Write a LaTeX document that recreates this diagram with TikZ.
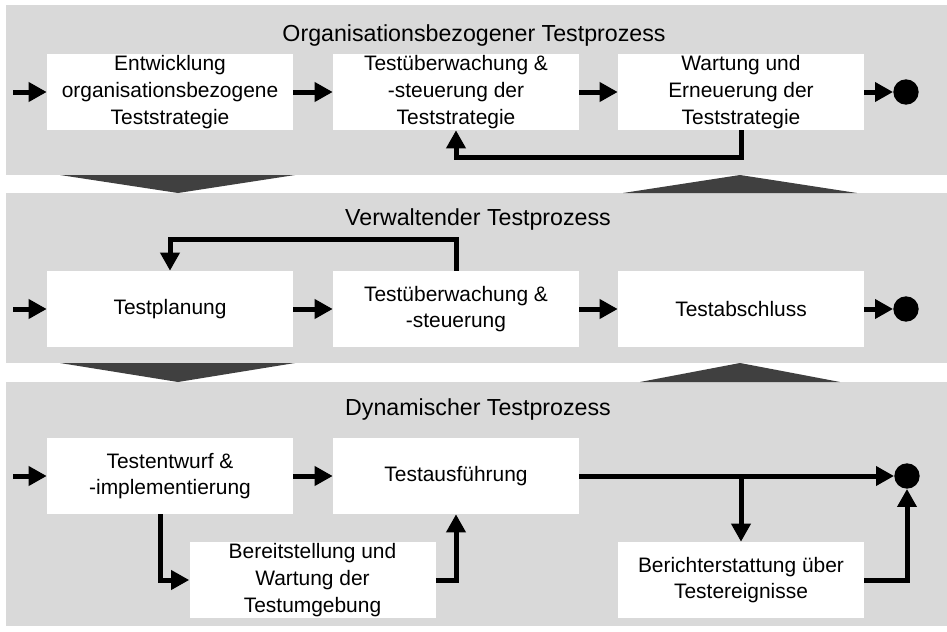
\documentclass[tikz,border=0pt]{standalone}
\usepackage{fontspec}
\setmainfont{Liberation Sans}
\usetikzlibrary{arrows.meta}
\definecolor{panelgray}{HTML}{D9D9D9}
\definecolor{wedgegray}{HTML}{404040}
\begin{document}
\begin{tikzpicture}[x=.75pt, y=-.75pt,
  every node/.style={font=\fontsize{15.7}{20}\selectfont},
  box/.style={fill=white, minimum width=184.5pt, minimum height=57pt, align=center, inner sep=0pt},
  endpt/.style={circle, fill=black, minimum size=19pt, inner sep=0pt},
  flow/.style={line width=3.75pt, -{Triangle[length=13.5pt 0 0, width=14pt 0 0]}},
  heading/.style={font=\fontsize{17.4}{21}\selectfont, anchor=base}]
  \useasboundingbox (0,0) rectangle (947,632);
  \fill[panelgray] (6,5) rectangle (947,175);
  \fill[panelgray] (6,193) rectangle (947,363);
  \fill[panelgray] (6,382) rectangle (947,626);
  \fill[wedgegray] (60,175) -- (295,175) -- (178,193) -- cycle;
  \fill[wedgegray] (623,193) -- (857,193) -- (740,175) -- cycle;
  \fill[wedgegray] (60,363) -- (295,363) -- (178,382) -- cycle;
  \fill[wedgegray] (640,382) -- (840,382) -- (740,363) -- cycle;

  \node[heading] (orgtitle) at (474,41) {Organisationsbezogener Testprozess};
  \node[heading] (mgmttitle) at (478,225) {Verwaltender Testprozess};
  \node[heading] (dyntitle) at (478,415) {Dynamischer Testprozess};

  \node[box] (strat) at (170,92) {Entwicklung\\organisationsbezogene\\Teststrategie};
  \node[box] (orgctl) at (456,92) {Testüberwachung \&\\-steuerung der\\Teststrategie};
  \node[box] (maint) at (741,92) {Wartung und\\Erneuerung der\\Teststrategie};
  \node[endpt] (orgend) at (906,92) {};
  \coordinate (orgin) at (13,92);
  \draw[flow] (orgin) -- (strat.west);
  \draw[flow] (strat.east) -- (orgctl.west);
  \draw[flow] (orgctl.east) -- (maint.west);
  \draw[flow] (maint.east) -- (orgend.west);
  \draw[flow] (maint.south) -- ++(0,27) -| (orgctl.south);

  \node[box] (plan) at (170,309) {Testplanung};
  \node[box] (mgmtctl) at (456,309) {Testüberwachung \&\\-steuerung};
  \node[box] (close) at (741,309) {Testabschluss};
  \node[endpt] (mgmtend) at (906,309) {};
  \coordinate (mgmtin) at (13,309);
  \draw[flow] (mgmtin) -- (plan.west);
  \draw[flow] (plan.east) -- (mgmtctl.west);
  \draw[flow] (mgmtctl.east) -- (close.west);
  \draw[flow] (close.east) -- (mgmtend.west);
  \draw[flow] (mgmtctl.north) -- ++(0,-31) -| (plan.north);

  \node[box] (design) at (170,476) {Testentwurf \&\\-implementierung};
  \node[box] (exec) at (456,476) {Testausführung};
  \node[box] (env) at (312.5,580) {Bereitstellung und\\Wartung der\\Testumgebung};
  \node[box] (report) at (741,580) {Berichterstattung über\\Testereignisse};
  \node[endpt] (dynend) at (907,476) {};
  \coordinate (dynin) at (13,476);
  \coordinate (fork) at (report.north |- exec.east);
  \draw[flow] (dynin) -- (design.west);
  \draw[flow] (design.east) -- (exec.west);
  \draw[flow] ([xshift=-7.5pt]design.south) |- (env.west);
  \draw[flow] (env.east) -| (exec.south);
  \draw[flow] (exec.east) -- (dynend.west);
  \draw[flow] (fork) -- (report.north);
  \draw[flow] (report.east) -| (dynend.south);
\end{tikzpicture}
\end{document}
